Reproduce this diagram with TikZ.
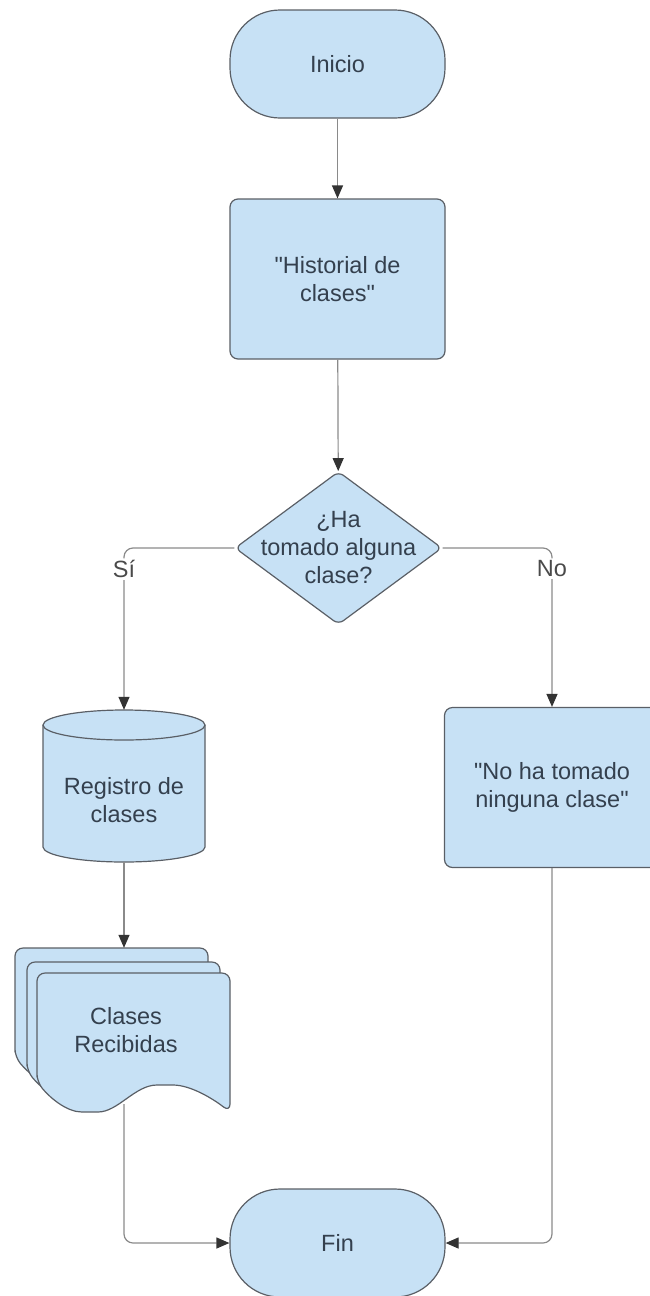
\documentclass[tikz,border=0pt]{standalone}
\usepackage{fontspec}
\setmainfont{Liberation Sans}[Ligatures=TeXOff]
\usetikzlibrary{arrows.meta,shapes.geometric}
\definecolor{shapefill}{HTML}{C7E1F5}
\definecolor{shapeline}{HTML}{5A5F66}
\definecolor{linkgray}{HTML}{8A8A8A}
\definecolor{tipgray}{HTML}{333333}
\definecolor{txt}{HTML}{34404E}
\definecolor{lbltxt}{HTML}{4A4A4A}
\begin{document}
\begin{tikzpicture}[x=1pt,y=-1pt,
  textfont/.style={font=\fontsize{23.5}{28}\selectfont},
  base/.style={fill=shapefill, draw=shapeline, line width=1.2pt, text=txt, textfont, align=center, inner sep=0pt},
  terminal/.style={base, rounded corners=50pt, minimum width=215pt, minimum height=108pt},
  process/.style={base, rounded corners=8pt, minimum width=215pt, minimum height=160pt},
  decision/.style={base, diamond, minimum width=207pt, minimum height=153pt, rounded corners=6pt},
  ghost/.style={inner sep=0pt},
  plain/.style={text=txt, textfont, align=center, inner sep=0pt},
  lbl/.style={fill=white, text=lbltxt, textfont, inner sep=2pt},
  link/.style={draw=linkgray, line width=1.2pt, rounded corners=9pt,
    -{Triangle[length=13pt,width=11pt,color=tipgray]}},
  sheet/.style={fill=shapefill, draw=shapeline, line width=1.2pt, rounded corners=8pt}
]
\useasboundingbox (0,0) rectangle (650,1296);

% terminals and process boxes
\node[terminal] (start) at (337.5,64) {Inicio};
\node[process] (hist) at (337.5,279) {"Historial de\\clases"};
\node[decision] (q) at (338.5,548) {};
\node[plain] (qtext) at (338.5,548) {¿Ha\\tomado alguna\\clase?};
\node[process] (none) at (552,787.5) {"No ha tomado\\ninguna clase"};
\node[terminal] (fin) at (337.5,1243) {Fin};

% database cylinder
\node[ghost, minimum width=162pt, minimum height=152pt] (reg) at (124,786) {};
\path[base] (43,725) -- (43,847) arc[start angle=180, end angle=360, x radius=81pt, y radius=15pt]
  -- (205,725) arc[start angle=0, end angle=180, x radius=81pt, y radius=15pt] -- cycle;
\draw[shapeline, line width=1.2pt] (43,725) arc[start angle=180, end angle=360, x radius=81pt, y radius=15pt];
\node[plain] (regtext) at (124,800) {Registro de\\clases};

% stacked documents
\node[ghost, minimum width=218pt, minimum height=156pt] (docs) at (124,1026) {};
\foreach \dx/\dy in {-22/-25, -10/-11, 0/0} {
  \begin{scope}[shift={(\dx,\dy)}]
    \path[sheet] (37,1082) -- (37,973) -- (230,973) -- (230,1112)
      .. controls (212,1098) and (190,1085) .. (165,1085)
      .. controls (135,1085) and (118,1112) .. (90,1112)
      .. controls (68,1112) and (52,1100) .. (37,1082) -- cycle;
  \end{scope}
}
\node[plain] (docstext) at (126,1030) {Clases\\Recibidas};

% connectors
\draw[link] (start) -- (hist);
\draw[link] (hist) -- (q);
\draw[link] (q.west) -| node[lbl, pos=0.565] {Sí} (reg.north);
\draw[link] (q.east) -| node[lbl, pos=0.565] {No} (none.north);
\draw[link] (reg.south) -- (docs.north);
\draw[link] (docs.south) |- (fin.west);
\draw[link] (none.south) |- (fin.east);
\end{tikzpicture}
\end{document}
